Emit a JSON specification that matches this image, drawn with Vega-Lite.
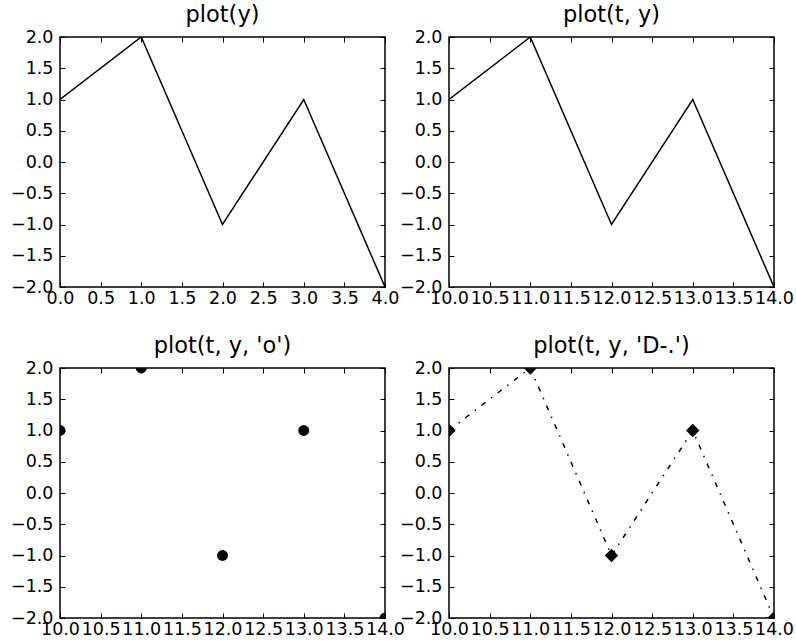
{
  "$schema": "https://vega.github.io/schema/vega-lite/v6.json",
  "background": "white",
  "padding": {"left": 9, "top": 2, "right": 5, "bottom": 5},
  "bounds": "flush",
  "columns": 2,
  "spacing": {"row": 81, "column": 64},
  "datasets": {
    "pts": [
      {"i": 0, "t": 10, "y": 1},
      {"i": 1, "t": 11, "y": 2},
      {"i": 2, "t": 12, "y": -1},
      {"i": 3, "t": 13, "y": 1},
      {"i": 4, "t": 14, "y": -2}
    ]
  },
  "config": {
    "font": "DejaVu Sans",
    "view": {"stroke": "black", "strokeWidth": 1.5},
    "axis": {
      "labelFont": "DejaVu Sans",
      "labelFontSize": 17.5,
      "labelColor": "black",
      "tickColor": "black",
      "tickSize": -5,
      "tickWidth": 1,
      "domain": false,
      "grid": false,
      "title": null,
      "format": ".1f",
      "labelOverlap": false,
      "labelBound": false,
      "labelFlush": false
    },
    "axisBottom": {"labelPadding": 7},
    "axisLeft": {"labelPadding": 12},
    "title": {"font": "DejaVu Sans", "fontSize": 22.5, "fontWeight": "normal", "color": "black", "offset": 2}
  },
  "concat": [
    {
      "title": "plot(y)",
      "width": 325, "height": 250,
      "data": {"name": "pts"},
      "layer": [
        {
          "mark": {"type": "line", "color": "black", "strokeWidth": 1.5, "clip": true},
          "encoding": {
            "x": {"field": "i", "type": "quantitative", "scale": {"domain": [0, 4], "nice": false, "zero": false}, "axis": {"orient": "bottom", "values": [0, 0.5, 1, 1.5, 2, 2.5, 3, 3.5, 4]}},
            "y": {"field": "y", "type": "quantitative", "scale": {"domain": [-2, 2], "nice": false}, "axis": {"orient": "left", "values": [-2, -1.5, -1, -0.5, 0, 0.5, 1, 1.5, 2]}}
          }
        },
        {
          "mark": {"type": "line", "opacity": 0},
          "encoding": {
            "x": {"field": "i", "type": "quantitative", "scale": {"domain": [0, 4], "nice": false, "zero": false}, "axis": {"orient": "top", "labels": false, "values": [0, 0.5, 1, 1.5, 2, 2.5, 3, 3.5, 4]}},
            "y": {"field": "y", "type": "quantitative", "scale": {"domain": [-2, 2], "nice": false}, "axis": {"orient": "right", "labels": false, "values": [-2, -1.5, -1, -0.5, 0, 0.5, 1, 1.5, 2]}}
          }
        }
      ],
      "resolve": {"scale": {"x": "independent", "y": "independent"}}
    },
    {
      "title": "plot(t, y)",
      "width": 325, "height": 250,
      "data": {"name": "pts"},
      "layer": [
        {
          "mark": {"type": "line", "color": "black", "strokeWidth": 1.5, "clip": true},
          "encoding": {
            "x": {"field": "t", "type": "quantitative", "scale": {"domain": [10, 14], "nice": false, "zero": false}, "axis": {"orient": "bottom", "values": [10, 10.5, 11, 11.5, 12, 12.5, 13, 13.5, 14]}},
            "y": {"field": "y", "type": "quantitative", "scale": {"domain": [-2, 2], "nice": false}, "axis": {"orient": "left", "values": [-2, -1.5, -1, -0.5, 0, 0.5, 1, 1.5, 2]}}
          }
        },
        {
          "mark": {"type": "line", "opacity": 0},
          "encoding": {
            "x": {"field": "t", "type": "quantitative", "scale": {"domain": [10, 14], "nice": false, "zero": false}, "axis": {"orient": "top", "labels": false, "values": [10, 10.5, 11, 11.5, 12, 12.5, 13, 13.5, 14]}},
            "y": {"field": "y", "type": "quantitative", "scale": {"domain": [-2, 2], "nice": false}, "axis": {"orient": "right", "labels": false, "values": [-2, -1.5, -1, -0.5, 0, 0.5, 1, 1.5, 2]}}
          }
        }
      ],
      "resolve": {"scale": {"x": "independent", "y": "independent"}}
    },
    {
      "title": "plot(t, y, 'o')",
      "width": 325, "height": 250,
      "data": {"name": "pts"},
      "layer": [
        {
          "mark": {"type": "point", "shape": "circle", "filled": true, "color": "black", "opacity": 1, "size": 120, "clip": true},
          "encoding": {
            "x": {"field": "t", "type": "quantitative", "scale": {"domain": [10, 14], "nice": false, "zero": false}, "axis": {"orient": "bottom", "values": [10, 10.5, 11, 11.5, 12, 12.5, 13, 13.5, 14]}},
            "y": {"field": "y", "type": "quantitative", "scale": {"domain": [-2, 2], "nice": false}, "axis": {"orient": "left", "values": [-2, -1.5, -1, -0.5, 0, 0.5, 1, 1.5, 2]}}
          }
        },
        {
          "mark": {"type": "line", "opacity": 0},
          "encoding": {
            "x": {"field": "t", "type": "quantitative", "scale": {"domain": [10, 14], "nice": false, "zero": false}, "axis": {"orient": "top", "labels": false, "values": [10, 10.5, 11, 11.5, 12, 12.5, 13, 13.5, 14]}},
            "y": {"field": "y", "type": "quantitative", "scale": {"domain": [-2, 2], "nice": false}, "axis": {"orient": "right", "labels": false, "values": [-2, -1.5, -1, -0.5, 0, 0.5, 1, 1.5, 2]}}
          }
        }
      ],
      "resolve": {"scale": {"x": "independent", "y": "independent"}}
    },
    {
      "title": "plot(t, y, 'D-.')",
      "width": 325, "height": 250,
      "data": {"name": "pts"},
      "layer": [
        {
          "mark": {"type": "line", "color": "black", "strokeWidth": 1.5, "strokeDash": [5, 7, 1.5, 7], "clip": true},
          "encoding": {
            "x": {"field": "t", "type": "quantitative", "scale": {"domain": [10, 14], "nice": false, "zero": false}, "axis": {"orient": "bottom", "values": [10, 10.5, 11, 11.5, 12, 12.5, 13, 13.5, 14]}},
            "y": {"field": "y", "type": "quantitative", "scale": {"domain": [-2, 2], "nice": false}, "axis": {"orient": "left", "values": [-2, -1.5, -1, -0.5, 0, 0.5, 1, 1.5, 2]}}
          }
        },
        {
          "mark": {"type": "point", "shape": "diamond", "filled": true, "color": "black", "opacity": 1, "size": 180, "clip": true},
          "encoding": {
            "x": {"field": "t", "type": "quantitative", "scale": {"domain": [10, 14], "nice": false, "zero": false}, "axis": null},
            "y": {"field": "y", "type": "quantitative", "scale": {"domain": [-2, 2], "nice": false}, "axis": null}
          }
        },
        {
          "mark": {"type": "line", "opacity": 0},
          "encoding": {
            "x": {"field": "t", "type": "quantitative", "scale": {"domain": [10, 14], "nice": false, "zero": false}, "axis": {"orient": "top", "labels": false, "values": [10, 10.5, 11, 11.5, 12, 12.5, 13, 13.5, 14]}},
            "y": {"field": "y", "type": "quantitative", "scale": {"domain": [-2, 2], "nice": false}, "axis": {"orient": "right", "labels": false, "values": [-2, -1.5, -1, -0.5, 0, 0.5, 1, 1.5, 2]}}
          }
        }
      ],
      "resolve": {"scale": {"x": "independent", "y": "independent"}}
    }
  ]
}
